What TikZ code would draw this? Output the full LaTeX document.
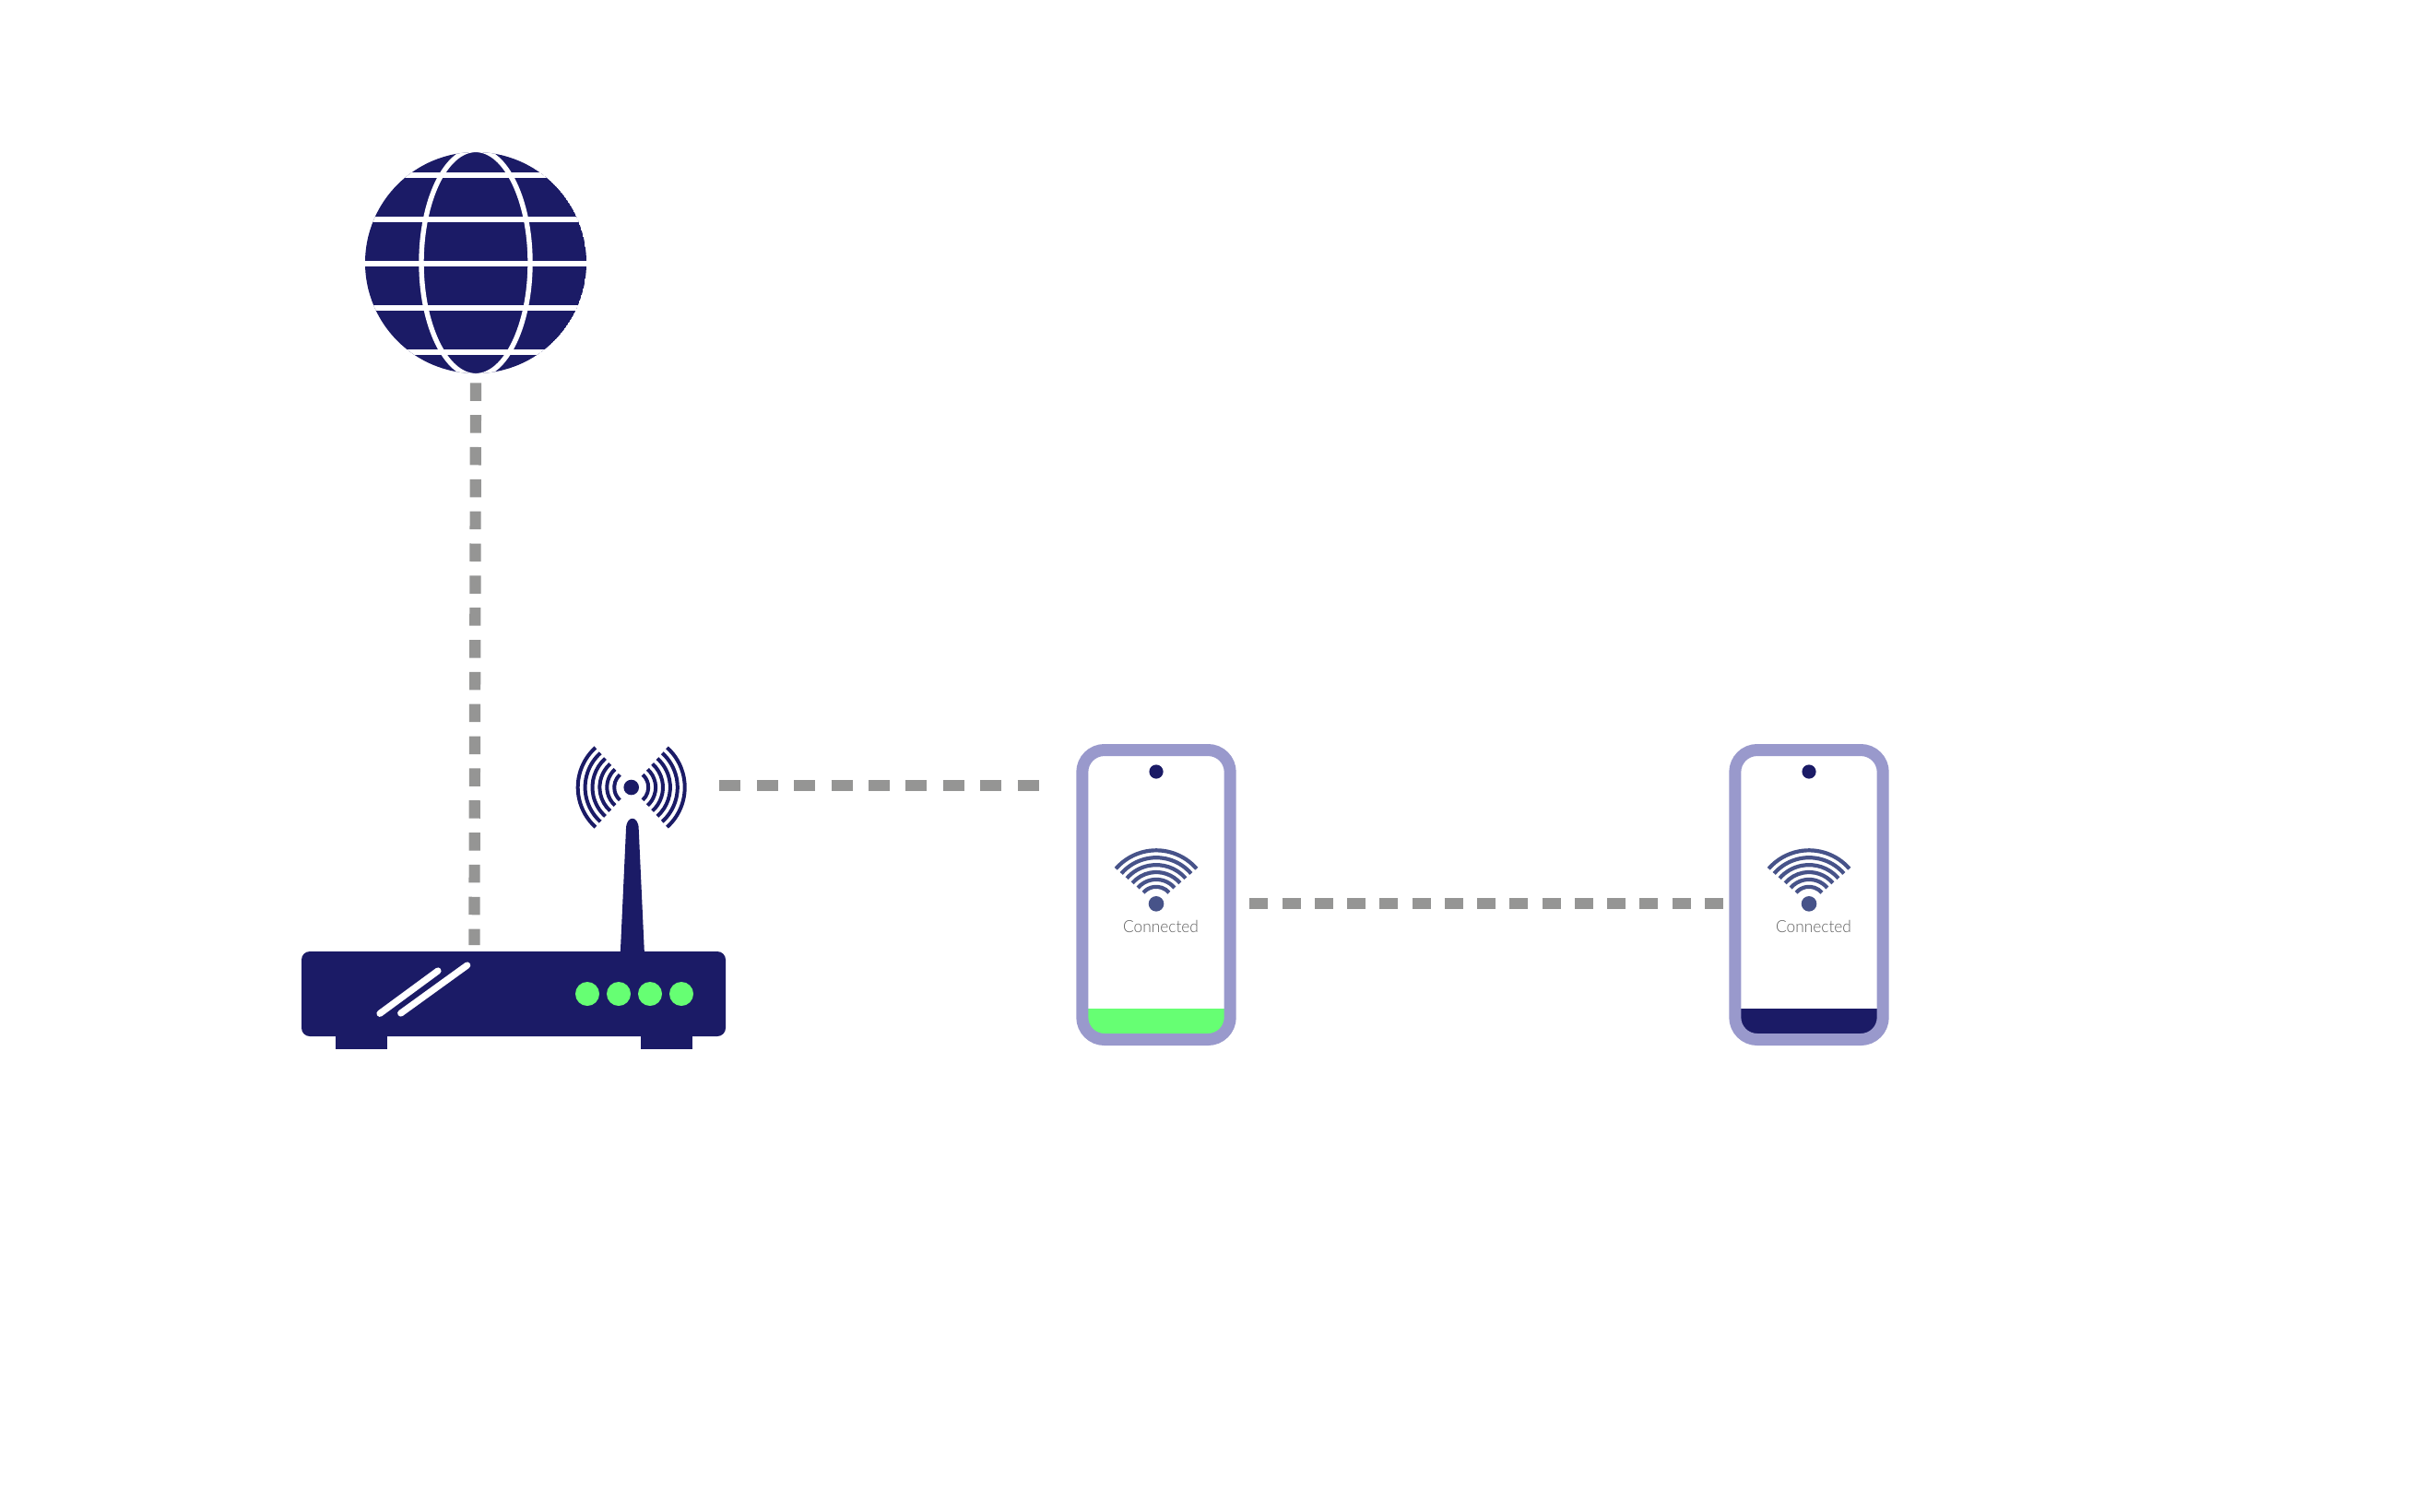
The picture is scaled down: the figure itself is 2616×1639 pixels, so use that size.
\documentclass[tikz,border=0pt]{standalone}
\usepackage{fontspec}
\newfontfamily\lightfont{Lato Light}
\definecolor{navy}{HTML}{1B1B66}
\definecolor{frameblue}{HTML}{9999CC}
\definecolor{wifiblue}{HTML}{475389}
\definecolor{ledgreen}{HTML}{66FF73}
\definecolor{linkgrey}{HTML}{959594}
\tikzset{
  px/.style={x=0.5pt,y=-0.5pt},
  globeline/.style={white,line width=2.7pt},
  vlink/.style={linkgrey,line width=6.1pt,dash pattern=on 9.75pt off 7.67pt},
  hlinka/.style={linkgrey,line width=6.1pt,dash pattern=on 11.5pt off 8.7pt},
  hlinkb/.style={linkgrey,line width=6.1pt,dash pattern=on 10pt off 7.62pt},
  radio/.style={navy,line width=2pt},
  wifi/.style={wifiblue,line width=2.1pt},
  led/.style={fill=ledgreen,draw=none,circle,minimum size=13pt,inner sep=0pt},
  slash/.style={white,line width=3.6pt,line cap=round},
  caption/.style={inner sep=0pt,text=black!62,xscale=0.95,font=\lightfont\fontsize{9.1pt}{10pt}\selectfont}
}
\begin{document}
\begin{tikzpicture}[px]
\useasboundingbox (0,0) rectangle (2616,1639);
\fill[white] (0,0) rectangle (2616,1639);

% named anchors
\coordinate (globeC) at (516,285);
\coordinate (globeS) at (516,415.3);
\coordinate (routerN) at (514.4,1025);
\coordinate (radioC) at (684.7,854);
\coordinate (radioE) at (780.4,852);
\coordinate (phoneAW) at (1127.4,852);
\coordinate (phoneAE) at (1355.4,980);
\coordinate (phoneBW) at (1869,980);

% globe
\begin{scope}
  \clip (globeC) circle[radius=60pt];
  \fill[navy] (globeC) circle[radius=60pt];
  \draw[globeline] (globeC) circle[x radius=29.5pt,y radius=61.3pt];
  \foreach \yy in {190,238,286,334,382}
    \draw[globeline] (380,\yy) -- (650,\yy);
\end{scope}

% connectors
\draw[vlink] (globeS) -- (routerN);
\draw[hlinka] (radioE) -- (phoneAW);
\draw[hlinkb] (phoneAE) -- (phoneBW);

% router
\fill[navy] (364,1110) rectangle (420,1138);
\fill[navy] (695,1110) rectangle (751,1138);
\fill[navy,rounded corners=4.5pt] (327,1032) rectangle (787,1124);
\fill[navy] (672.7,1036) -- (679,899) .. controls (679.2,884) and (692.5,884) .. (692.7,899) -- (699,1036) -- cycle;
\draw[slash] (412,1099.3) -- (475,1053);
\draw[slash] (434.7,1099) -- (506.7,1047);
\foreach \xx/\nm in {637/a,671/b,705/c,739/d}
  \node[led] (led\nm) at (\xx,1078) {};

% radio waves
\fill[navy] (radioC) circle[radius=4.15pt];
\foreach \r in {9.25,13.2,17.15,21.1,25.05,29}{
  \draw[radio] (radioC) ++(-48:\r pt) arc[start angle=-48,end angle=48,radius=\r pt];
  \draw[radio] (radioC) ++(132:\r pt) arc[start angle=132,end angle=228,radius=\r pt];
}

% phones
\foreach \dx/\band/\nm in {0/ledgreen/a,708/navy/b}{
  \begin{scope}[shift={(\dx,0)}]
    \begin{scope}
      \clip[rounded corners=12pt] (1173.8,813.5) rectangle (1334.2,1127.5);
      \fill[\band] (1170,1094) rectangle (1340,1130);
    \end{scope}
    \draw[frameblue,line width=6.5pt,rounded corners=12pt] (1173.8,813.5) rectangle (1334.2,1127.5);
    \fill[navy] (1254,837) circle[radius=3.8pt];
    \coordinate (wifi\nm) at (1254,980.3);
    \fill[wifiblue] (wifi\nm) circle[radius=4.15pt];
    \foreach \r in {9.25,13.2,17.15,21.1,25.05,29}
      \draw[wifi] (wifi\nm) ++(41:\r pt) arc[start angle=41,end angle=139,radius=\r pt];
    \node[caption] (label\nm) at (1259,1005) {Connected};
  \end{scope}
}
\end{tikzpicture}
\end{document}
